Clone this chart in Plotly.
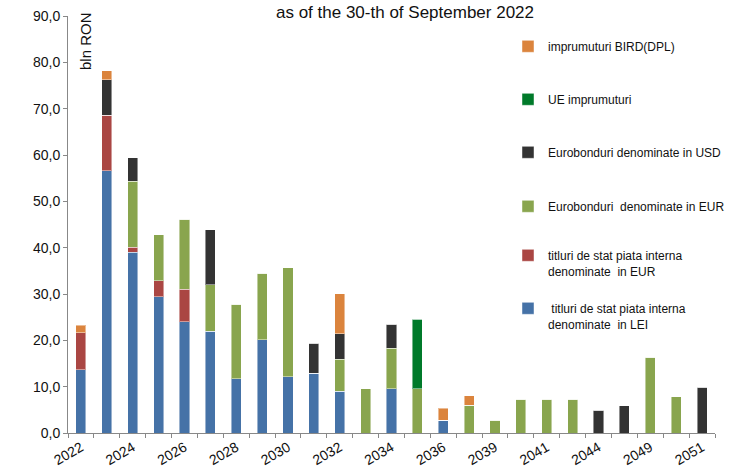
import plotly.graph_objects as go

years = ["2022", "2023", "2024", "2025", "2026", "2027", "2028", "2029", "2030",
         "2031", "2032", "2033", "2034", "2035", "2036", "2038", "2039", "2040",
         "2041", "2042", "2044", "2048", "2049", "2050", "2051"]
shown_labels = ["2022", "2024", "2026", "2028", "2030", "2032", "2034", "2036",
                "2039", "2041", "2044", "2049", "2051"]

titluri_lei = [13.6, 56.6, 39.0, 29.4, 24.0, 22.0, 11.7, 20.1, 12.1, 12.9, 9.0, 0, 9.6, 0, 2.7,
               0, 0, 0, 0, 0, 0, 0, 0, 0, 0]
titluri_eur = [8.0, 12.0, 1.1, 3.5, 7.0, 0, 0, 0, 0, 0, 0, 0, 0, 0, 0,
               0, 0, 0, 0, 0, 0, 0, 0, 0, 0]
euro_eur = [0, 0, 14.2, 9.9, 15.1, 10.0, 16.1, 14.4, 23.6, 0, 6.9, 9.6, 8.7, 9.5, 0,
            6.0, 2.8, 7.3, 7.3, 7.3, 0, 0, 16.4, 7.8, 0]
euro_usd = [0, 7.6, 5.1, 0, 0, 11.9, 0, 0, 0, 6.5, 5.5, 0, 5.2, 0, 0,
            0, 0, 0, 0, 0, 4.9, 5.9, 0, 0, 9.9]
ue_impr = [0, 0, 0, 0, 0, 0, 0, 0, 0, 0, 0, 0, 0, 15.1, 0,
           0, 0, 0, 0, 0, 0, 0, 0, 0, 0]
bird = [1.7, 2.0, 0, 0, 0, 0, 0, 0, 0, 0, 8.7, 0, 0, 0, 2.6,
        2.0, 0, 0, 0, 0, 0, 0, 0, 0, 0]

series_names = [
    "\u00a0titluri de stat piata interna<br>denominate\u00a0\u00a0in LEI",
    "titluri de stat piata interna<br>denominate\u00a0\u00a0in EUR",
    "Eurobonduri\u00a0\u00a0denominate in EUR",
    "Eurobonduri denominate in USD",
    "UE imprumuturi",
    "imprumuturi BIRD(DPL)",
]
series_values = [titluri_lei, titluri_eur, euro_eur, euro_usd, ue_impr, bird]
series_colors = ["#4572A7", "#AA4643", "#89A54E", "#333333", "#007A2A", "#DB843D"]
# vertical pixel centre of each legend marker (style/position only)
legend_centres = [307, 254, 205, 151, 98, 45]

W, H = 733, 472
PLOT_L, PLOT_R, PLOT_T, PLOT_B = 68, 715, 16, 433
PW, PH = PLOT_R - PLOT_L, PLOT_B - PLOT_T

font_family = "Liberation Sans, Arial, Helvetica, sans-serif"
fig = go.Figure()
legend_layouts = {}
for i, (name, vals, color) in enumerate(zip(series_names, series_values, series_colors)):
    lname = "legend" if i == 0 else f"legend{i + 1}"
    fig.add_trace(go.Bar(
        x=years, y=vals, name=name, legend=lname,
        marker=dict(color=color, line=dict(color="rgba(255,255,255,0.45)", width=1)),
    ))
    legend_layouts[lname] = dict(
        xref="paper", yref="paper", x=(508 - PLOT_L) / PW, xanchor="left",
        y=(PLOT_B - (legend_centres[i] - 13)) / PH, yanchor="top",
        font=dict(size=12, color="#111111", family=font_family), valign="top",
        bgcolor="rgba(0,0,0,0)", itemwidth=30,
    )

fig.update_layout(
    width=W, height=H,
    barmode="stack", bargap=0.61,
    separators=", ",
    plot_bgcolor="white", paper_bgcolor="white",
    font=dict(family=font_family, color="#111111", size=14),
    margin=dict(l=PLOT_L, r=W - PLOT_R, t=PLOT_T, b=H - PLOT_B, pad=0, autoexpand=False),
    title=dict(text="as of the 30-th of September 2022", x=405 / W, xanchor="center",
               y=1 - 12 / H, yanchor="middle", font=dict(size=17, color="#111111")),
    showlegend=True,
    **legend_layouts,
)
fig.update_xaxes(
    type="category", categoryorder="array", categoryarray=years,
    tickmode="array", tickvals=years,
    ticktext=[y if y in shown_labels else "" for y in years],
    tickson="boundaries", ticks="outside", ticklen=4, tickcolor="#888888",
    tickangle=-30, showline=True, linecolor="#888888", linewidth=1,
    showgrid=False, range=[-0.5, len(years) - 0.5],
    tickfont=dict(size=14, color="#111111"),
)
fig.update_yaxes(
    range=[0, 90], dtick=10, tickformat=".1f", ticks="outside", ticklen=4,
    tickcolor="#888888", showline=True, linecolor="#888888", linewidth=1,
    showgrid=False, zeroline=False, tickfont=dict(size=14, color="#111111"),
)
fig.add_annotation(text="bln RON", textangle=-90, xref="paper", yref="paper",
                   x=(86 - PLOT_L) / PW, y=(PLOT_B - 41) / PH, showarrow=False,
                   font=dict(size=15, color="#111111"), xanchor="center", yanchor="middle")

fig.write_html("out.html", config={"displayModeBar": False},
               post_script="document.body.style.margin='0';")
